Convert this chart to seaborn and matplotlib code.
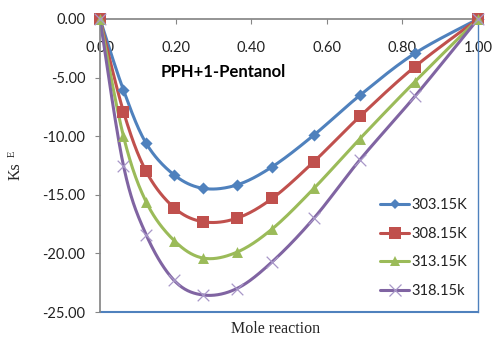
import numpy as np
import pandas as pd
import matplotlib
matplotlib.use("Agg")
import matplotlib.pyplot as plt
from matplotlib.lines import Line2D
import seaborn as sns

# Mole fraction of reaction and excess Ks values at each temperature
mole_x = [0.0, 0.062, 0.122, 0.196, 0.273, 0.362, 0.456, 0.566, 0.688, 0.833, 1.0]
ks_303 = [0.0, -6.06, -10.6, -13.3, -14.45, -14.16, -12.6, -9.9, -6.5, -2.93, 0.0]
ks_308 = [0.0, -7.9, -13.0, -16.1, -17.3, -17.0, -15.3, -12.17, -8.3, -4.07, 0.0]
ks_313 = [0.0, -10.0, -15.6, -18.9, -20.4, -19.9, -17.9, -14.45, -10.2, -5.35, 0.0]
ks_318 = [0.0, -12.5, -18.4, -22.3, -23.55, -23.0, -20.7, -17.0, -12.0, -6.6, 0.0]
series_names = ["303.15K", "308.15K", "313.15K", "318.15k"]
x_ticks = [0.0, 0.2, 0.4, 0.6, 0.8, 1.0]
y_ticks = [0.0, -5.0, -10.0, -15.0, -20.0, -25.0]

colors = ["#4F81BD", "#C0504D", "#9BBB59", "#8064A2"]
markers = ["D", "s", "^", "x"]
msizes = [38, 85, 62, 70]

sns.set_theme(style="white")
plt.rcParams["font.family"] = ["Lato", "DejaVu Sans"]
plt.rcParams["mathtext.fontset"] = "custom"
plt.rcParams["mathtext.rm"] = "Liberation Serif"


def smooth(xs, ys, n=30):
    """Cardinal (Catmull-Rom style) Bezier smoothing through the points."""
    p = np.column_stack([xs, ys]).astype(float)
    ext = np.vstack([p[0], p, p[-1]])
    out = []
    t = np.linspace(0, 1, n)[:, None]
    for i in range(len(p) - 1):
        p0, p1, p2, p3 = ext[i], ext[i + 1], ext[i + 2], ext[i + 3]
        c1 = p1 + (p2 - p0) / 6.0
        c2 = p2 - (p3 - p1) / 6.0
        seg = ((1 - t) ** 3) * p1 + 3 * ((1 - t) ** 2) * t * c1 + 3 * (1 - t) * t ** 2 * c2 + t ** 3 * p2
        out.append(seg if i == 0 else seg[1:])
    s = np.vstack(out)
    return s[:, 0], s[:, 1]


all_ks = [ks_303, ks_308, ks_313, ks_318]
pts = pd.concat(
    [pd.DataFrame({"x": mole_x, "ks": v, "T": name}) for v, name in zip(all_ks, series_names)],
    ignore_index=True,
)
curves = []
for v, name in zip(all_ks, series_names):
    sx, sy = smooth(mole_x, v)
    curves.append(pd.DataFrame({"x": sx, "ks": sy, "T": name}))
curves = pd.concat(curves, ignore_index=True)

fig = plt.figure(figsize=(4.93, 3.37), dpi=100)
ax = fig.add_axes([100 / 493, 1 - 312 / 337, 378 / 493, 293 / 337])

palette = dict(zip(series_names, colors))
sns.lineplot(data=curves, x="x", y="ks", hue="T", palette=palette, sort=False,
             estimator=None, linewidth=2.2, legend=False, ax=ax)
for name, c, m, s in zip(series_names, colors, markers, msizes):
    sub = pts[pts["T"] == name]
    kw = dict(linewidth=0) if m != "x" else dict(linewidth=0.9)
    mc = c if m != "x" else "#A897C8"
    sns.scatterplot(data=sub, x="x", y="ks", color=mc, marker=m, s=s,
                    ax=ax, legend=False, clip_on=False, zorder=4, **kw)

ax.set_xlim(0, 1)
ax.set_ylim(-25, 0)
ax.set_xticks(x_ticks)
ax.set_xticklabels([f"{v:.2f}" for v in x_ticks])
ax.set_yticks(y_ticks)
ax.set_yticklabels([f"{v:.2f}" for v in y_ticks])
ax.set_xlabel("")
ax.set_ylabel("")

# x axis runs along the zero line at the top, labels beneath it
ax.spines["bottom"].set_position(("data", 0))
ax.spines["bottom"].set_color("#868686")
ax.spines["left"].set_color("#868686")
ax.spines["top"].set_visible(False)
ax.spines["right"].set_color("#4F81BD")
ax.spines["right"].set_linewidth(1.0)
ax.axhline(-25, color="#4F81BD", linewidth=1.5, clip_on=False, zorder=1)
ax.tick_params(axis="x", direction="out", length=3.5, width=0.8, color="#868686",
               pad=12, labelsize=10.5, labelcolor="#222222", bottom=True)
ax.tick_params(axis="y", direction="out", length=3.5, width=0.8, color="#868686",
               pad=7, labelsize=10.5, labelcolor="#222222", left=True)

ax.text(0.161, -4.5, "PPH+1-Pentanol", fontsize=12, fontweight="bold",
        ha="left", va="center", color="black")

fig.text(276 / 493, 1 - 329 / 337, "Mole reaction", family="Liberation Serif",
         fontsize=11.5, ha="center", va="center")
fig.text(16 / 493, 1 - 171 / 337, "Ks", family="Liberation Serif",
         fontsize=11.5, rotation=90, ha="center", va="center")
fig.text(12 / 493, 1 - 154 / 337, "E", family="Liberation Serif",
         fontsize=7.5, rotation=90, ha="center", va="center")

handles = []
for name, c, m in zip(series_names, colors, markers):
    mc = c if m != "x" else "#A897C8"
    ms = {"D": 5, "s": 9, "^": 7, "x": 8}[m]
    handles.append(Line2D([0], [0], color=c, linewidth=2.2, marker=m, markersize=ms,
                          markerfacecolor=mc, markeredgecolor=mc,
                          markeredgewidth=0 if m != "x" else 0.9))
fig.legend(handles=handles, labels=series_names, loc="center left",
           bbox_to_anchor=(380 / 493, 1 - 248 / 337), frameon=False,
           borderaxespad=0, borderpad=0,
           fontsize=10.5, handlelength=2.0, handletextpad=0.15, labelspacing=1.0,
           labelcolor="#222222")

fig.savefig("out.png", dpi=100)
